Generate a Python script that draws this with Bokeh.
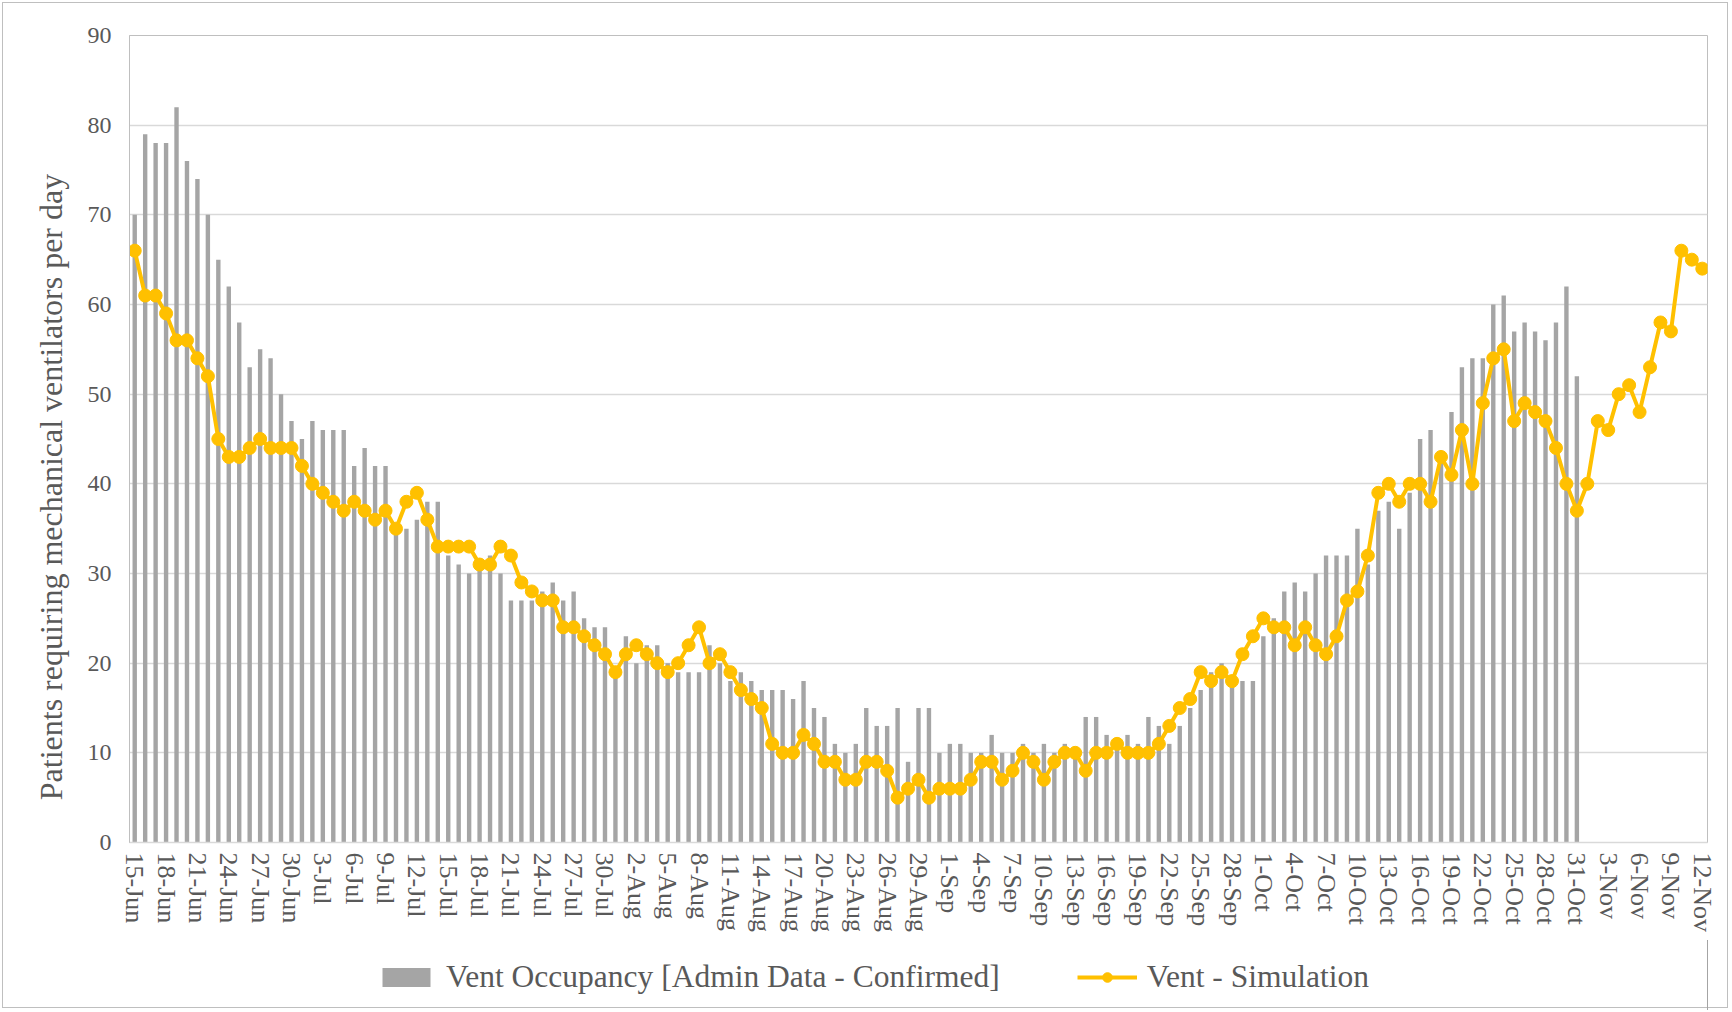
from bokeh.plotting import figure
from bokeh.layouts import column
from bokeh.models import FixedTicker, Range1d, Legend, LegendItem
from bokeh.embed import file_html
from bokeh.resources import INLINE

# ---- data -------------------------------------------------------------
tick_labels = [
    "15-Jun", "18-Jun", "21-Jun", "24-Jun", "27-Jun", "30-Jun",
    "3-Jul", "6-Jul", "9-Jul", "12-Jul", "15-Jul", "18-Jul", "21-Jul", "24-Jul", "27-Jul", "30-Jul",
    "2-Aug", "5-Aug", "8-Aug", "11-Aug", "14-Aug", "17-Aug", "20-Aug", "23-Aug", "26-Aug", "29-Aug",
    "1-Sep", "4-Sep", "7-Sep", "10-Sep", "13-Sep", "16-Sep", "19-Sep", "22-Sep", "25-Sep", "28-Sep",
    "1-Oct", "4-Oct", "7-Oct", "10-Oct", "13-Oct", "16-Oct", "19-Oct", "22-Oct", "25-Oct", "28-Oct", "31-Oct",
    "3-Nov", "6-Nov", "9-Nov", "12-Nov",
]

# daily values from 15-Jun (admin data ends 31-Oct, simulation ends 12-Nov)
vent_occupancy = [
    70, 79, 78, 78, 82, 76, 74, 70, 65, 62, 58, 53, 55, 54, 50, 47,
    45, 47, 46, 46, 46, 42, 44, 42, 42, 35, 35, 36, 38, 38, 32, 31,
    30, 31, 32, 30, 27, 27, 27, 28, 29, 27, 28, 25, 24, 24, 19,
    23, 20, 22, 22, 20, 19, 19, 19, 22, 20, 18, 19, 18, 17, 17,
    17, 16, 18, 15, 14, 11, 10, 11, 15, 13, 13, 15, 9, 15, 15, 10,
    11, 11, 10, 10, 12, 10, 10, 11, 10, 11, 10, 11, 10, 14, 14, 12,
    11, 12, 11, 14, 13, 11, 13, 15, 17, 19, 20, 18, 18, 18,
    23, 25, 28, 29, 28, 30, 32, 32, 32, 35, 31, 37, 38, 35, 39, 45,
    46, 43, 48, 53, 54, 54, 60, 61, 57, 58, 57, 56, 58, 62, 52,
]

vent_simulation = [
    66, 61, 61, 59, 56, 56, 54, 52, 45, 43, 43, 44, 45, 44, 44, 44,
    42, 40, 39, 38, 37, 38, 37, 36, 37, 35, 38, 39, 36, 33, 33, 33,
    33, 31, 31, 33, 32, 29, 28, 27, 27, 24, 24, 23, 22, 21, 19,
    21, 22, 21, 20, 19, 20, 22, 24, 20, 21, 19, 17, 16, 15, 11,
    10, 10, 12, 11, 9, 9, 7, 7, 9, 9, 8, 5, 6, 7, 5, 6,
    6, 6, 7, 9, 9, 7, 8, 10, 9, 7, 9, 10, 10, 8, 10, 10,
    11, 10, 10, 10, 11, 13, 15, 16, 19, 18, 19, 18, 21, 23,
    25, 24, 24, 22, 24, 22, 21, 23, 27, 28, 32, 39, 40, 38, 40, 40,
    38, 43, 41, 46, 40, 49, 54, 55, 47, 49, 48, 47, 44, 40, 37,
    40, 47, 46, 50, 51, 48, 53, 58, 57, 66, 65, 64,
]

series_names = ["Vent Occupancy [Admin Data - Confirmed]", "Vent - Simulation"]
y_title = "Patients requiring mechanical ventilators per day"

# ---- styles -----------------------------------------------------------
FONT = "Liberation Serif"
GREY_TXT = "#595959"
BAR_COLOR = "#a5a5a5"
LINE_COLOR = "#ffc000"

days = list(range(len(vent_simulation)))
occ_days = days[:len(vent_occupancy)]

# ---- main chart -------------------------------------------------------
p = figure(width=1730, height=940, output_backend="svg", toolbar_location=None,
           x_range=Range1d(-0.5, len(days) - 0.5), y_range=Range1d(0, 90),
           min_border_left=129, min_border_right=23, min_border_top=35,
           min_border_bottom=98)
p.outline_line_color = "#bfbfbf"
p.outline_line_width = 1
p.background_fill_color = "white"
p.border_fill_alpha = 0

p.vbar(x=occ_days, top=vent_occupancy, width=0.42,
       fill_color=BAR_COLOR, line_color=None)
p.line(days, vent_simulation, line_color=LINE_COLOR, line_width=4)
p.scatter(days, vent_simulation, size=13, fill_color=LINE_COLOR,
          line_color=LINE_COLOR)

# x axis
p.xaxis.ticker = FixedTicker(ticks=days[::3])
p.xaxis.major_label_overrides = {d: lab for d, lab in zip(days[::3], tick_labels)}
p.xaxis.major_label_orientation = "vertical"
p.xaxis.major_label_text_font = FONT
p.xaxis.major_label_text_font_size = "26px"
p.xaxis.major_label_text_color = GREY_TXT
p.xaxis.major_tick_line_color = None
p.xaxis.minor_tick_line_color = None
p.xaxis.major_tick_out = 0
p.xaxis.major_label_standoff = 10
p.xaxis.axis_line_color = "#d9d9d9"
p.xaxis.axis_line_width = 1.5

# y axis
p.yaxis.ticker = FixedTicker(ticks=list(range(0, 91, 10)))
p.yaxis.major_label_text_font = FONT
p.yaxis.major_label_text_font_size = "24px"
p.yaxis.major_label_text_color = GREY_TXT
p.yaxis.major_tick_line_color = None
p.yaxis.minor_tick_line_color = None
p.yaxis.major_tick_out = 0
p.yaxis.major_label_standoff = 18
p.yaxis.axis_line_color = "#bfbfbf"
p.yaxis.axis_label = y_title + "\u00a0" * 12
p.yaxis.axis_label_text_font = FONT
p.yaxis.axis_label_text_font_size = "32px"
p.yaxis.axis_label_text_font_style = "normal"
p.yaxis.axis_label_text_color = GREY_TXT
p.yaxis.axis_label_standoff = 16

p.xgrid.grid_line_color = None
p.ygrid.grid_line_color = "#d9d9d9"
p.ygrid.grid_line_width = 1.5

# ---- legend strip below the chart ------------------------------------
# the same series, drawn outside this strip's visible range, only feed the legend
lg = figure(width=1730, height=70, output_backend="svg", toolbar_location=None,
            x_range=Range1d(-1000, -999), y_range=Range1d(0, 1),
            x_axis_type=None, y_axis_type=None,
            min_border_left=0, min_border_right=0, min_border_top=0,
            min_border_bottom=0)
lg.outline_line_color = None
lg.background_fill_alpha = 0
lg.border_fill_alpha = 0
lg_bar = lg.vbar(x=occ_days, top=vent_occupancy, width=0.42,
                 fill_color=BAR_COLOR, line_color=None)
lg_line = lg.line(days, vent_simulation, line_color=LINE_COLOR, line_width=4)
lg_pts = lg.scatter(days, vent_simulation, size=14, fill_color=LINE_COLOR,
                    line_color=LINE_COLOR)

legend = Legend(items=[LegendItem(label=series_names[0], renderers=[lg_bar]),
                       LegendItem(label=series_names[1], renderers=[lg_line, lg_pts])],
                orientation="horizontal", location=(247, 15),
                label_text_font=FONT, label_text_font_size="31.5px",
                label_text_color=GREY_TXT, glyph_width=60, glyph_height=24,
                label_standoff=10, spacing=77, padding=0, margin=0,
                border_line_color=None, background_fill_alpha=0)
lg.add_layout(legend, "center")

layout = column(p, lg, spacing=0)
layout.styles = {"outline": "1px solid #bfbfbf", "outline-offset": "-3px"}

open("out.html", "w").write(file_html(layout, INLINE))
